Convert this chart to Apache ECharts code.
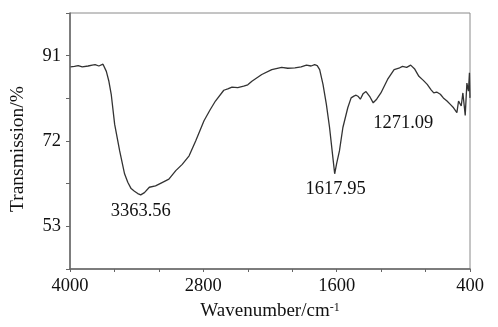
<!DOCTYPE html>
<html>
<head>
<meta charset="utf-8">
<script src="https://cdn.jsdelivr.net/npm/echarts@6/dist/echarts.min.js"></script>
<style>
  html, body { margin: 0; padding: 0; background: #fff; }
  #main { width: 498px; height: 327px; }
</style>
</head>
<body>
<div id="main"></div>
<script>
// 波数 (cm-1) 和 透过率 (%)
var wavenumber = [3995, 3960, 3926, 3890, 3837, 3800, 3774, 3740, 3703, 3690, 3673, 3650, 3629, 3598, 3553, 3509, 3480, 3450, 3420, 3390, 3363.56, 3330, 3286, 3230, 3167, 3110, 3048, 2990, 2928, 2869, 2794, 2740, 2691, 2616, 2580, 2542, 2490, 2437, 2400, 2363, 2274, 2184, 2095, 2040, 1976, 1920, 1872, 1830, 1798, 1775, 1753, 1723, 1693, 1664, 1634, 1617.95, 1600, 1575, 1544, 1500, 1470, 1445, 1425, 1405, 1387, 1363, 1336, 1300, 1271.09, 1240, 1202, 1142, 1083, 1040, 1008, 970, 934, 900, 860, 820, 785, 750, 726, 700, 667, 640, 607, 575, 548, 530, 518, 503, 479, 464, 443, 428, 414, 405, 400];
var transmission = [88.5, 88.6, 88.8, 88.5, 88.7, 88.9, 89.0, 88.7, 89.1, 88.8, 87.5, 85.3, 82.4, 75.7, 69.8, 64.7, 62.8, 61.4, 60.8, 60.3, 60.0, 60.5, 61.7, 62.0, 62.8, 63.5, 65.4, 66.8, 68.7, 72.0, 76.5, 78.9, 80.9, 83.3, 83.6, 84.0, 83.9, 84.2, 84.5, 85.3, 86.8, 87.9, 88.4, 88.2, 88.3, 88.5, 88.9, 88.7, 89.0, 88.8, 87.9, 84.6, 80.2, 75.0, 68.3, 64.7, 67.0, 69.8, 75.0, 79.4, 81.6, 82.0, 82.2, 81.9, 81.3, 82.5, 83.0, 81.8, 80.5, 81.3, 82.7, 85.7, 87.9, 88.2, 88.6, 88.4, 88.9, 88.1, 86.4, 85.5, 84.6, 83.4, 82.7, 82.9, 82.4, 81.6, 80.9, 80.1, 79.4, 79.0, 78.3, 80.9, 79.8, 82.7, 77.7, 84.9, 83.1, 87.2, 81.6];
var yTickLabels = [53, 72, 91];
var xTickLabels = [4000, 2800, 1600, 400];
var peaks = [
  { x: 3363.56, y: 60.0, text: '3363.56', offset: [0, 16] },
  { x: 1617.95, y: 64.7, text: '1617.95', offset: [1, 15] },
  { x: 1271.09, y: 80.5, text: '1271.09', offset: [30, 20] }
];

var seriesData = [];
for (var i = 0; i < wavenumber.length; i++) {
  seriesData.push([wavenumber[i], transmission[i]]);
}

var serif = 'Liberation Serif';
var myChart = echarts.init(document.getElementById('main'));

var option = {
  animation: false,
  grid: {
    left: 67,
    right: 28,
    top: 13,
    bottom: 58,
    show: true,
    borderColor: '#8a8a8a',
    borderWidth: 1
  },
  xAxis: {
    type: 'value',
    inverse: true,
    min: 400,
    max: 4000,
    interval: 400,
    name: 'Wavenumber/cm{sup|-1}',
    nameLocation: 'middle',
    nameGap: 33,
    nameTextStyle: {
      fontFamily: serif,
      fontSize: 19,
      color: '#111',
      rich: {
        sup: { fontFamily: serif, fontSize: 12, color: '#111', verticalAlign: 'top' }
      }
    },
    axisLine: { lineStyle: { color: '#666', width: 1.5 } },
    axisTick: { length: 3, lineStyle: { color: '#666' } },
    splitLine: { show: false },
    axisLabel: {
      fontFamily: serif,
      fontSize: 18.5,
      color: '#111',
      margin: 8,
      formatter: function (v) {
        return xTickLabels.indexOf(v) >= 0 ? String(v) : '';
      }
    }
  },
  yAxis: {
    type: 'value',
    min: 43.5,
    max: 100.5,
    interval: 9.5,
    name: 'Transmission/%',
    nameLocation: 'middle',
    nameGap: 42,
    nameTextStyle: { fontFamily: serif, fontSize: 19.5, color: '#111', padding: [0, 16, 0, 0] },
    axisLine: { show: true, lineStyle: { color: '#666', width: 1.5 } },
    axisTick: { show: true, length: 4, lineStyle: { color: '#666' } },
    splitLine: { show: false },
    axisLabel: {
      fontFamily: serif,
      fontSize: 18.5,
      color: '#111',
      margin: 9,
      formatter: function (v) {
        return yTickLabels.indexOf(Math.round(v * 10) / 10) >= 0 ? String(v) : '';
      }
    }
  },
  series: [{
    type: 'line',
    data: seriesData,
    showSymbol: false,
    symbol: 'none',
    lineStyle: { color: '#333', width: 1.3 },
    markPoint: {
      symbol: 'circle',
      symbolSize: 1,
      itemStyle: { color: 'rgba(0,0,0,0)' },
      label: {
        show: true,
        position: 'inside',
        fontFamily: serif,
        fontSize: 18.5,
        color: '#111'
      },
      data: peaks.map(function (p) {
        return {
          coord: [p.x, p.y],
          label: { formatter: p.text, offset: p.offset }
        };
      })
    }
  }]
};

myChart.setOption(option);
</script>
</body>
</html>
